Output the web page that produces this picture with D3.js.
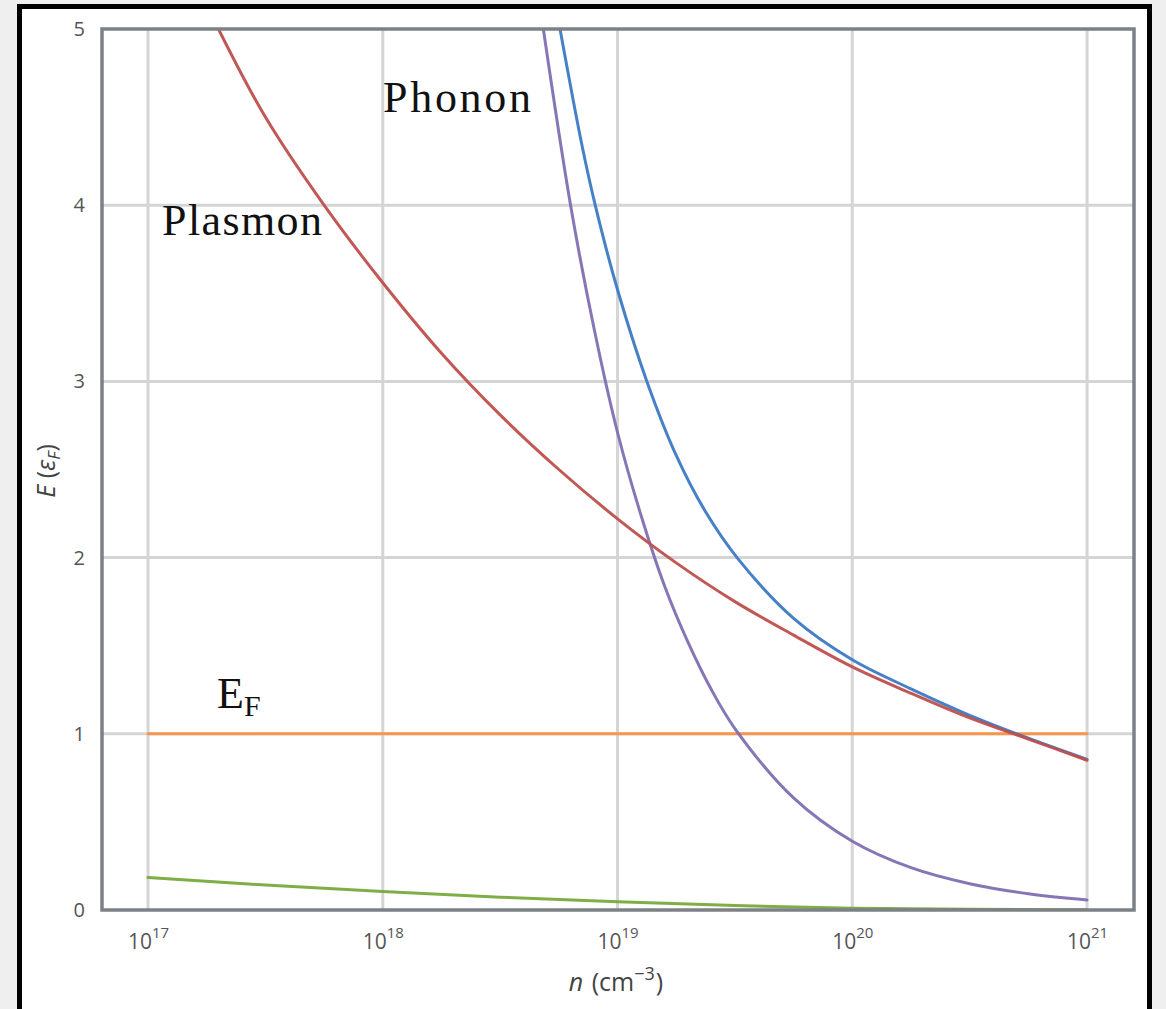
<!DOCTYPE html>
<html>
<head>
<meta charset="utf-8">
<script src="https://cdn.jsdelivr.net/npm/d3@7"></script>
<style>
  html, body { margin: 0; padding: 0; background: #efefef; }
  svg { display: block; }
</style>
</head>
<body>
<svg id="chart" width="1166" height="1009"></svg>
<script>
// ---- data (log10 of n in cm^-3, energy in units of E_F) ----
const xTickExps = [17, 18, 19, 20, 21];
const yTicks = [0, 1, 2, 3, 4, 5];

const plasmonLogN = [17.3, 17.5, 17.75, 18, 18.25, 18.5, 18.75, 19, 19.25, 19.5, 19.75, 20, 20.25, 20.5, 20.75, 21];
const plasmonE    = [5.0, 4.50, 4.00, 3.56, 3.16, 2.81, 2.50, 2.22, 1.97, 1.75, 1.56, 1.38, 1.23, 1.09, 0.97, 0.85];

const phononBlueLogN = [18.755, 18.85, 18.905, 19.0, 19.125, 19.25, 19.375, 19.515, 19.75, 20, 20.25, 20.5, 20.75, 21];
const phononBlueE    = [5.0, 4.33, 4.0, 3.52, 3.0, 2.58, 2.26, 1.99, 1.655, 1.42, 1.255, 1.105, 0.975, 0.855];

const phononPurpleLogN = [18.684, 18.8, 18.9, 19.0, 19.1, 19.2, 19.3, 19.4, 19.5, 19.75, 20, 20.25, 20.5, 20.75, 21];
const phononPurpleE    = [5.0, 4.0, 3.30, 2.71, 2.24, 1.84, 1.52, 1.25, 1.03, 0.636, 0.39, 0.24, 0.149, 0.092, 0.057];

const fermiLogN = [17, 21];
const fermiE    = [1, 1];

const greenLogN = [17, 17.5, 18, 18.5, 19, 19.5, 20, 20.5, 21];
const greenE    = [0.184, 0.142, 0.105, 0.073, 0.047, 0.025, 0.01, 0.004, 0.002];

// ---- layout ----
const svg = d3.select("#chart");
const mLeft = 102, mRight = 1134, mTop = 29, mBottom = 910;

svg.append("rect").attr("x", 19.5).attr("y", 6.5).attr("width", 1130).attr("height", 1100)
  .attr("fill", "#ffffff").attr("stroke", "#000").attr("stroke-width", 5);

const x = d3.scaleLog().domain([Math.pow(10, 16.804), Math.pow(10, 21.2)]).range([mLeft, mRight]);
const y = d3.scaleLinear().domain([0, 5]).range([mBottom, mTop]);

// gridlines
const grid = svg.append("g").attr("stroke", "#d5d5d5").attr("stroke-width", 3);
grid.selectAll("line.v").data(xTickExps).join("line").attr("class", "v")
  .attr("x1", d => x(Math.pow(10, d))).attr("x2", d => x(Math.pow(10, d)))
  .attr("y1", mTop).attr("y2", mBottom);
grid.selectAll("line.h").data(yTicks.slice(1, -1)).join("line").attr("class", "h")
  .attr("x1", mLeft).attr("x2", mRight)
  .attr("y1", d => y(d)).attr("y2", d => y(d));

// curves
svg.append("clipPath").attr("id", "plotclip").append("rect")
  .attr("x", mLeft).attr("y", mTop).attr("width", mRight - mLeft).attr("height", mBottom - mTop);
const line = d3.line().x(d => x(Math.pow(10, d[0]))).y(d => y(d[1])).curve(d3.curveCatmullRom.alpha(0.5));
const series = [
  { n: greenLogN, e: greenE, c: "#78a93c" },
  { n: fermiLogN, e: fermiE, c: "#f4944a" },
  { n: phononPurpleLogN, e: phononPurpleE, c: "#7f6fb2" },
  { n: phononBlueLogN, e: phononBlueE, c: "#3c79c4" },
  { n: plasmonLogN, e: plasmonE, c: "#bf4f4c" }
];
const curves = svg.append("g").attr("clip-path", "url(#plotclip)");
series.forEach(s => {
  curves.append("path").datum(s.n.map((v, i) => [v, s.e[i]]))
    .attr("d", line).attr("fill", "none").attr("stroke", s.c)
    .attr("stroke-width", 3).attr("stroke-linecap", "round").attr("opacity", 0.95);
});

// frame
svg.append("rect").attr("x", mLeft).attr("y", mTop).attr("width", mRight - mLeft).attr("height", mBottom - mTop)
  .attr("fill", "none").attr("stroke", "#7c8186").attr("stroke-width", 3.5);

// axes
const tickFont = "'Open Sans', sans-serif";
const yAxis = svg.append("g").attr("transform", `translate(${mLeft},0)`)
  .call(d3.axisLeft(y).tickValues(yTicks).tickSize(0).tickPadding(17).tickFormat(d3.format("d")));
yAxis.select(".domain").remove();
yAxis.selectAll("text").attr("font-family", tickFont).attr("font-size", 20).attr("fill", "#555");

const xAxis = svg.append("g").attr("transform", `translate(0,${mBottom})`)
  .call(d3.axisBottom(x).tickValues(xTickExps.map(e => Math.pow(10, e))).tickSize(0).tickFormat(() => ""));
xAxis.select(".domain").remove();
xAxis.selectAll(".tick text").each(function(d, i) {
  const t = d3.select(this);
  t.attr("y", 39).attr("dy", null)
   .attr("font-family", tickFont).attr("font-size", 21).attr("fill", "#555")
   .attr("text-anchor", "middle");
  t.append("tspan").text("10");
  t.append("tspan").attr("font-size", 15).attr("dy", -11).text(xTickExps[i]);
});

// axis labels
const yl = svg.append("text").attr("transform", "translate(55,471) rotate(-90)")
  .attr("text-anchor", "middle").attr("font-family", tickFont)
  .attr("font-size", 25).attr("fill", "#444");
yl.append("tspan").attr("font-style", "italic").text("E");
yl.append("tspan").text(" (");
yl.append("tspan").attr("font-style", "italic").text("ε");
yl.append("tspan").attr("font-style", "italic").attr("font-size", 17).attr("dy", 5).text("F");
yl.append("tspan").attr("dy", -5).text(")");

const xl = svg.append("text").attr("x", 616).attr("y", 991)
  .attr("text-anchor", "middle").attr("font-family", tickFont)
  .attr("font-size", 25).attr("fill", "#444");
xl.append("tspan").attr("font-style", "italic").text("n");
xl.append("tspan").attr("dx", 2).text(" (cm");
xl.append("tspan").attr("font-size", 18).attr("dy", -11).text("−3");
xl.append("tspan").attr("dy", 11).attr("dx", 1).text(")");

// annotations
const serif = "'Liberation Serif', 'DejaVu Serif', serif";
svg.append("text").attr("x", 383).attr("y", 112).attr("font-family", serif).attr("font-size", 44)
  .attr("fill", "#111").attr("textLength", 148).text("Phonon");
svg.append("text").attr("x", 162).attr("y", 235).attr("font-family", serif).attr("font-size", 44)
  .attr("fill", "#111").attr("textLength", 160).text("Plasmon");
const ef = svg.append("text").attr("x", 217).attr("y", 708).attr("font-family", serif)
  .attr("font-size", 44).attr("fill", "#111");
ef.append("tspan").text("E");
ef.append("tspan").attr("font-size", 30).attr("dy", 8).attr("dx", 0).text("F");
</script>
</body>
</html>
